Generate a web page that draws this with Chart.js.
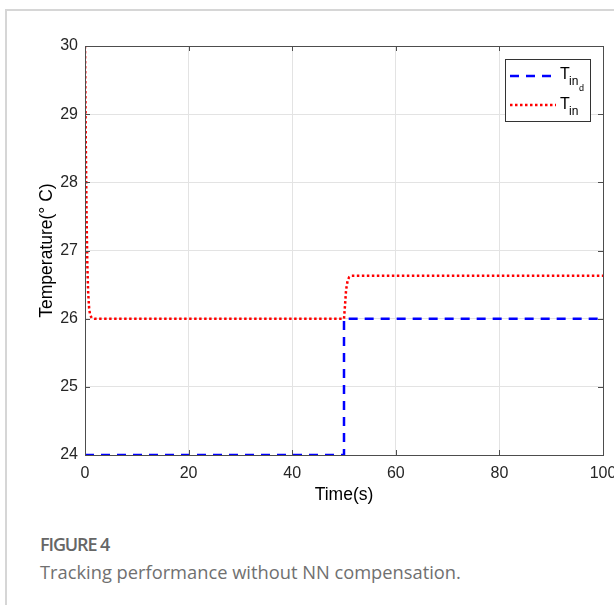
<!DOCTYPE html>
<html>
<head>
<meta charset="utf-8">
<script src="https://cdn.jsdelivr.net/npm/chart.js@4/dist/chart.umd.min.js"></script>
<style>
body{margin:0;background:#fff;overflow:hidden;width:614px;height:605px;position:relative}
#frame{position:absolute;left:5px;top:9px;width:700px;height:700px;border-left:2px solid #d6d6d6;border-top:2px solid #d6d6d6}
#wrap{position:absolute;left:0;top:0;width:640px;height:520px}
.cap{position:absolute;left:40px;font-family:"Open Sans",Lato,sans-serif;color:#707070;white-space:nowrap}
#fig{top:532px;font-size:18px;font-weight:600;color:#666;letter-spacing:-1.1px}
#txt{top:559px;font-size:18.3px}
</style>
</head>
<body>
<div id="frame"></div>
<div id="wrap"><canvas id="temp-chart" width="640" height="520"></canvas></div>
<div class="cap" id="fig">FIGURE 4</div>
<div class="cap" id="txt">Tracking performance without NN compensation.</div>
<script>
// desired inlet temperature T_in_d
const timeDesired = [0, 50, 50, 100];
const tempDesired = [24, 24, 26, 26];
// actual inlet temperature T_in
const timeActual = [0, 0.15, 0.3, 0.45, 0.6, 0.8, 1.0, 1.3, 1.8, 50, 50.2, 50.4, 50.7, 51.0, 51.5, 100];
const tempActual = [30, 28.6, 27.5, 26.8, 26.4, 26.15, 26.05, 26.01, 26, 26, 26.2, 26.42, 26.56, 26.61, 26.63, 26.63];
const xTicks = [0, 20, 40, 60, 80, 100];
const yTicks = [24, 25, 26, 27, 28, 29, 30];

const toPoints = (xs, ys) => xs.map((x, i) => ({ x: x, y: ys[i] }));

const boxPlugin = {
    id: 'box',
    afterDraw(chart) {
        const ctx = chart.ctx;
        const a = chart.chartArea;
        const xs = chart.scales.x, ys = chart.scales.y;
        ctx.save();
        ctx.strokeStyle = '#4d4d4d';
        ctx.lineWidth = 1;
        ctx.strokeRect(a.left + 0.5, a.top + 0.5, a.right - a.left, a.bottom - a.top);
        ctx.beginPath();
        xTicks.forEach(v => {
            const px = Math.round(xs.getPixelForValue(v)) + 0.5;
            ctx.moveTo(px, a.bottom); ctx.lineTo(px, a.bottom - 5);
            ctx.moveTo(px, a.top); ctx.lineTo(px, a.top + 5);
        });
        yTicks.forEach(v => {
            const py = Math.round(ys.getPixelForValue(v)) + 0.5;
            ctx.moveTo(a.left, py); ctx.lineTo(a.left + 5, py);
            ctx.moveTo(a.right, py); ctx.lineTo(a.right - 5, py);
        });
        ctx.stroke();

        // legend box
        const lx = 505, ly = 59, lw = 85, lh = 62;
        ctx.fillStyle = '#fff';
        ctx.fillRect(lx, ly, lw, lh);
        ctx.strokeStyle = '#333';
        ctx.strokeRect(lx + 0.5, ly + 0.5, lw, lh);
        ctx.lineWidth = 2.5;
        ctx.strokeStyle = '#0000ff';
        ctx.setLineDash([9, 7]);
        ctx.beginPath(); ctx.moveTo(510, 76); ctx.lineTo(558, 76); ctx.stroke();
        ctx.strokeStyle = '#ff0000';
        ctx.setLineDash([2.5, 2.5]);
        ctx.beginPath(); ctx.moveTo(510, 105); ctx.lineTo(556, 105); ctx.stroke();
        ctx.setLineDash([]);
        ctx.fillStyle = '#000';
        ctx.textBaseline = 'alphabetic';
        ctx.font = '16px "Liberation Sans", Arial, sans-serif';
        ctx.fillText('T', 560, 79);
        ctx.fillText('T', 560, 109);
        ctx.font = '12px "Liberation Sans", Arial, sans-serif';
        ctx.fillText('in', 569, 85);
        ctx.fillText('in', 569, 115);
        ctx.font = '9px "Liberation Sans", Arial, sans-serif';
        ctx.fillText('d', 579, 91);
        ctx.restore();
    }
};

new Chart(document.getElementById('temp-chart'), {
    type: 'scatter',
    data: {
        datasets: [
            {
                label: 'T_in_d',
                data: toPoints(timeDesired, tempDesired),
                showLine: true,
                borderColor: '#0000ff',
                borderWidth: 2.5,
                borderDash: [9, 7],
                pointRadius: 0,
                tension: 0
            },
            {
                label: 'T_in',
                data: toPoints(timeActual, tempActual),
                showLine: true,
                borderColor: '#ff0000',
                borderWidth: 2.5,
                borderDash: [2.5, 2.5],
                pointRadius: 0,
                tension: 0
            }
        ]
    },
    options: {
        responsive: false,
        animation: false,
        layout: { padding: { left: 33, right: 37, top: 46, bottom: 10 } },
        plugins: { legend: { display: false }, tooltip: { enabled: false } },
        scales: {
            x: {
                type: 'linear', min: 0, max: 100,
                afterBuildTicks: s => { s.ticks = xTicks.map(v => ({ value: v })); },
                afterFit: s => { s.height = 55; },
                grid: { color: '#e3e3e3', drawTicks: false },
                border: { display: false },
                ticks: { font: { family: 'Liberation Sans', size: 16 }, color: '#262626', padding: 9, maxRotation: 0 },
                title: { display: true, text: 'Time(s)', font: { family: 'Liberation Sans', size: 17.5 }, color: '#000', padding: { top: 2, bottom: 4 } }
            },
            y: {
                type: 'linear', min: 24, max: 30,
                afterBuildTicks: s => { s.ticks = yTicks.map(v => ({ value: v })); },
                afterFit: s => { s.width = 52; },
                grid: { color: '#e3e3e3', drawTicks: false },
                border: { display: false },
                ticks: { font: { family: 'Liberation Sans', size: 16 }, color: '#262626', padding: 7 },
                title: { display: true, text: 'Temperature(\u00b0 C)', font: { family: 'Liberation Sans', size: 17.5 }, color: '#000', padding: { top: 4, bottom: 4 } }
            }
        }
    },
    plugins: [boxPlugin]
});
</script>
</body>
</html>
